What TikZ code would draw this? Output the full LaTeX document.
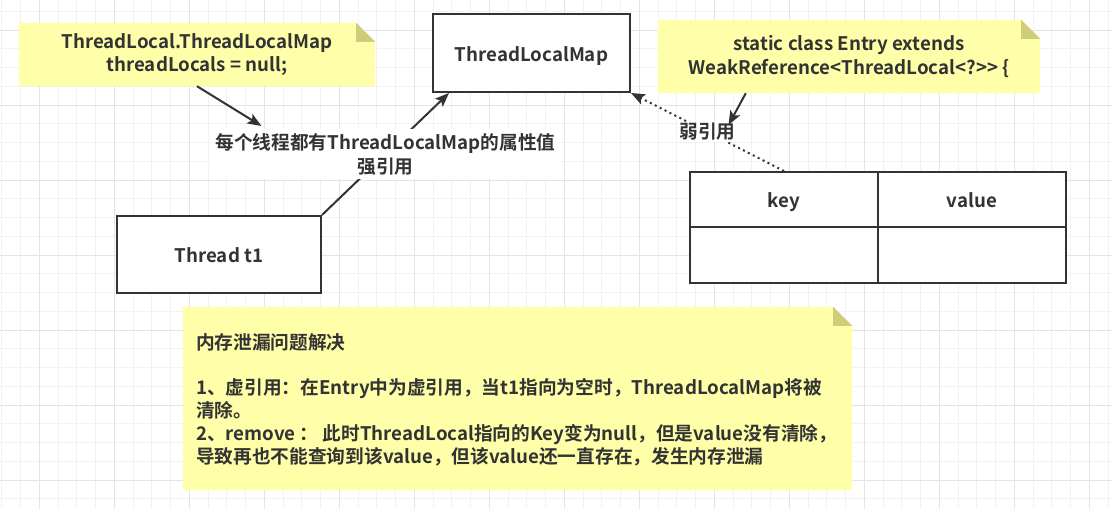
\documentclass[tikz,border=0pt]{standalone}
\usepackage{fontspec}
\setmainfont{Noto Sans CJK SC}[BoldFont={Noto Sans CJK SC Bold}]
\usetikzlibrary{arrows.meta,calc,backgrounds}
\definecolor{ink}{HTML}{333333}
\definecolor{noteFill}{HTML}{FFFFAA}
\definecolor{noteFold}{HTML}{CDCD7A}
\definecolor{gridMinor}{HTML}{F2F2F2}
\definecolor{gridMajor}{HTML}{E4E4E4}
\newcommand\notefillshape[2]{%
  \fill[noteFill] (#1.north west) -- ($(#1.north east)+(-#2,0)$) -- ($(#1.north east)+(0,#2)$) -- (#1.south east) -- (#1.south west) -- cycle;
  \fill[noteFold] ($(#1.north east)+(-#2,0)$) -- ($(#1.north east)+(-#2,#2)$) -- ($(#1.north east)+(0,#2)$) -- cycle;}
\begin{document}
\begin{tikzpicture}[x=1pt,y=-1pt,
  every node/.style={font=\fontsize{18.7}{24}\selectfont\bfseries, text=ink},
  box/.style={draw=ink, line width=2pt, fill=white, inner sep=0pt, text height=20pt, text depth=4pt},
  notebox/.style={inner sep=0pt, align=center},
  lbl/.style={fill=white, inner sep=1pt, align=center},
  arr/.style={draw=ink, line width=2pt, -{Stealth[length=14pt,width=11pt,inset=3pt]}},
  weakarr/.style={draw=ink, line width=2pt, dash pattern=on 2pt off 3.5pt, -{Stealth[length=14pt,width=11pt,inset=3pt]}}
]
\useasboundingbox (0,0) rectangle (1112,509);
% nodes
\node[notebox, minimum width=356pt, minimum height=63pt] (note1) at (197,54.5) {\raisebox{-2pt}{\shortstack{ThreadLocal.ThreadLocalMap\\[1pt]threadLocals = null;}}};
\node[notebox, minimum width=382pt, minimum height=73pt] (note2) at (849,56.5) {static class Entry extends\\WeakReference<ThreadLocal<?>{}> \{};
\node[notebox, minimum width=669pt, minimum height=183pt] (note3) at (517.5,398.5) {};
\node[anchor=west, align=left, inner sep=0pt, font=\fontsize{18.7}{22.8}\selectfont\bfseries] (note3text) at ($(note3.west)+(13,1)$) {内存泄漏问题解决\\[22.8pt]1、虚引用：在Entry中为虚引用，当t1指向为空时，ThreadLocalMap将被\\清除。\\2、remove ： 此时ThreadLocal指向的Key变为null，但是value没有清除，\\导致再也不能查询到该value，但该value还一直存在，发生内存泄漏};
\node[box, minimum width=197pt, minimum height=78pt] (tlm) at (531.5,53) {ThreadLocalMap};
\node[box, minimum width=204pt, minimum height=77pt] (t1) at (219,254.5) {Thread t1};
\node[box, minimum width=188pt, minimum height=55pt] (key) at (784,199.5) {key};
\node[box, minimum width=188pt, minimum height=55pt] (val) at (972,199.5) {value};
\node[box, minimum width=188pt, minimum height=56pt] (key2) at (784,255) {};
\node[box, minimum width=188pt, minimum height=56pt] (val2) at (972,255) {};
\coordinate (tlmIn) at ($(tlm.south west)+(17,0)$);
% connectors
\draw[arr] (t1.north east) -- node[lbl, minimum width=350pt, minimum height=50pt] (strong) {每个线程都有ThreadLocalMap的属性值\\强引用} (tlmIn);
\draw[weakarr] (key.north) -- node[lbl] (weak) {弱引用} (tlm.south east);
\draw[arr] (note1.south) -- ($(strong.north west)+(52,-2)$);
\draw[arr] ($(note2.south west)+(88,0)$) -- ($(weak.center)+(21,-7)$);
% background
\begin{scope}[on background layer]
  \fill[white] (0,0) rectangle (1112,509);
  \foreach \i in {0,...,59} {\draw[gridMinor, line width=1pt] ({1.8+18.75*\i},0) -- ++(0,509);}
  \foreach \i in {0,...,26} {\draw[gridMinor, line width=1pt] (0,{11.25+18.75*\i}) -- ++(1112,0);}
  \foreach \i in {0,...,14} {\draw[gridMajor, line width=1pt] ({39.3+75*\i},0) -- ++(0,509);}
  \foreach \i in {0,...,6} {\draw[gridMajor, line width=1pt] (0,{30+75*\i}) -- ++(1112,0);}
  \notefillshape{note1}{19}
  \notefillshape{note2}{19}
  \notefillshape{note3}{19}
\end{scope}
\end{tikzpicture}
\end{document}
